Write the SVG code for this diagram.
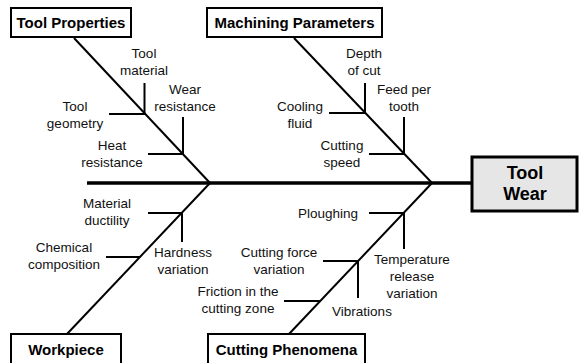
<svg xmlns="http://www.w3.org/2000/svg" width="580" height="363" viewBox="0 0 580 363">
<style>
.box{fill:#fff;stroke:#000;stroke-width:2}
.head{font-family:"Liberation Sans",Arial,sans-serif;font-weight:bold;font-size:15px;text-anchor:middle;fill:#000}
.lbl{font-family:"Liberation Sans",Arial,sans-serif;font-size:13.5px;text-anchor:middle;fill:#111}
.ln{stroke:#000;stroke-width:2;fill:none}
.spine{stroke:#000;stroke-width:3.5;fill:none}
</style>
<rect width="580" height="363" fill="#fff"/>
<g id="connectors">
<line class="spine" x1="87" y1="183" x2="472" y2="183"/>
<line class="ln" x1="74" y1="38" x2="210" y2="183"/>
<line class="ln" x1="294" y1="38" x2="432" y2="183"/>
<line class="ln" x1="67" y1="334" x2="210" y2="183"/>
<line class="ln" x1="289" y1="334" x2="432" y2="183"/>
<path class="ln" d="M109 114H144.5V83M148 154H183V117"/>
<path class="ln" d="M329 113H365V83M369 154H404V117"/>
<path class="ln" d="M148 213H182V242M106 257H140"/>
<path class="ln" d="M369 213H404V249M323 261H358V298M284 301H320"/>
</g>
<g id="tool-properties">
<rect class="box" x="11" y="8" width="120" height="29"/>
<text class="head" x="71" y="28">Tool Properties</text>
</g>
<g id="machining-parameters">
<rect class="box" x="207" y="8" width="175" height="29"/>
<text class="head" x="294.5" y="28">Machining Parameters</text>
</g>
<g id="workpiece">
<rect class="box" x="11" y="334" width="110" height="32"/>
<text class="head" x="66" y="355">Workpiece</text>
</g>
<g id="cutting-phenomena">
<rect class="box" x="208" y="334" width="157" height="32"/>
<text class="head" x="286.5" y="355">Cutting Phenomena</text>
</g>
<g id="tool-wear">
<rect x="472" y="157" width="105" height="54" fill="#e6e6e6" stroke="#000" stroke-width="3"/>
<text class="head" style="font-size:18px" x="525" y="178.5">Tool</text>
<text class="head" style="font-size:18px" x="525" y="200">Wear</text>
</g>
<g id="tool-material"><text class="lbl" x="144" y="58">Tool</text><text class="lbl" x="144" y="75">material</text></g>
<g id="wear-resistance"><text class="lbl" x="185" y="94">Wear</text><text class="lbl" x="185" y="111">resistance</text></g>
<g id="tool-geometry"><text class="lbl" x="75" y="111">Tool</text><text class="lbl" x="75" y="128">geometry</text></g>
<g id="heat-resistance"><text class="lbl" x="112" y="150">Heat</text><text class="lbl" x="112" y="167">resistance</text></g>
<g id="depth-of-cut"><text class="lbl" x="364" y="58">Depth</text><text class="lbl" x="364" y="75">of cut</text></g>
<g id="feed-per-tooth"><text class="lbl" x="404" y="94">Feed per</text><text class="lbl" x="404" y="111">tooth</text></g>
<g id="cooling-fluid"><text class="lbl" x="300" y="111">Cooling</text><text class="lbl" x="300" y="128">fluid</text></g>
<g id="cutting-speed"><text class="lbl" x="342" y="150">Cutting</text><text class="lbl" x="342" y="167">speed</text></g>
<g id="material-ductility"><text class="lbl" x="107" y="208">Material</text><text class="lbl" x="107" y="225">ductility</text></g>
<g id="chemical-composition"><text class="lbl" x="64" y="252">Chemical</text><text class="lbl" x="64" y="269">composition</text></g>
<g id="hardness-variation"><text class="lbl" x="183" y="257">Hardness</text><text class="lbl" x="183" y="274">variation</text></g>
<g id="ploughing"><text class="lbl" x="328" y="218">Ploughing</text></g>
<g id="temperature-release-variation"><text class="lbl" x="412" y="264">Temperature</text><text class="lbl" x="412" y="281">release</text><text class="lbl" x="412" y="298">variation</text></g>
<g id="cutting-force-variation"><text class="lbl" x="279" y="257">Cutting force</text><text class="lbl" x="279" y="274">variation</text></g>
<g id="friction"><text class="lbl" x="238" y="296">Friction in the</text><text class="lbl" x="238" y="313">cutting zone</text></g>
<g id="vibrations"><text class="lbl" x="362" y="316">Vibrations</text></g>
</svg>
